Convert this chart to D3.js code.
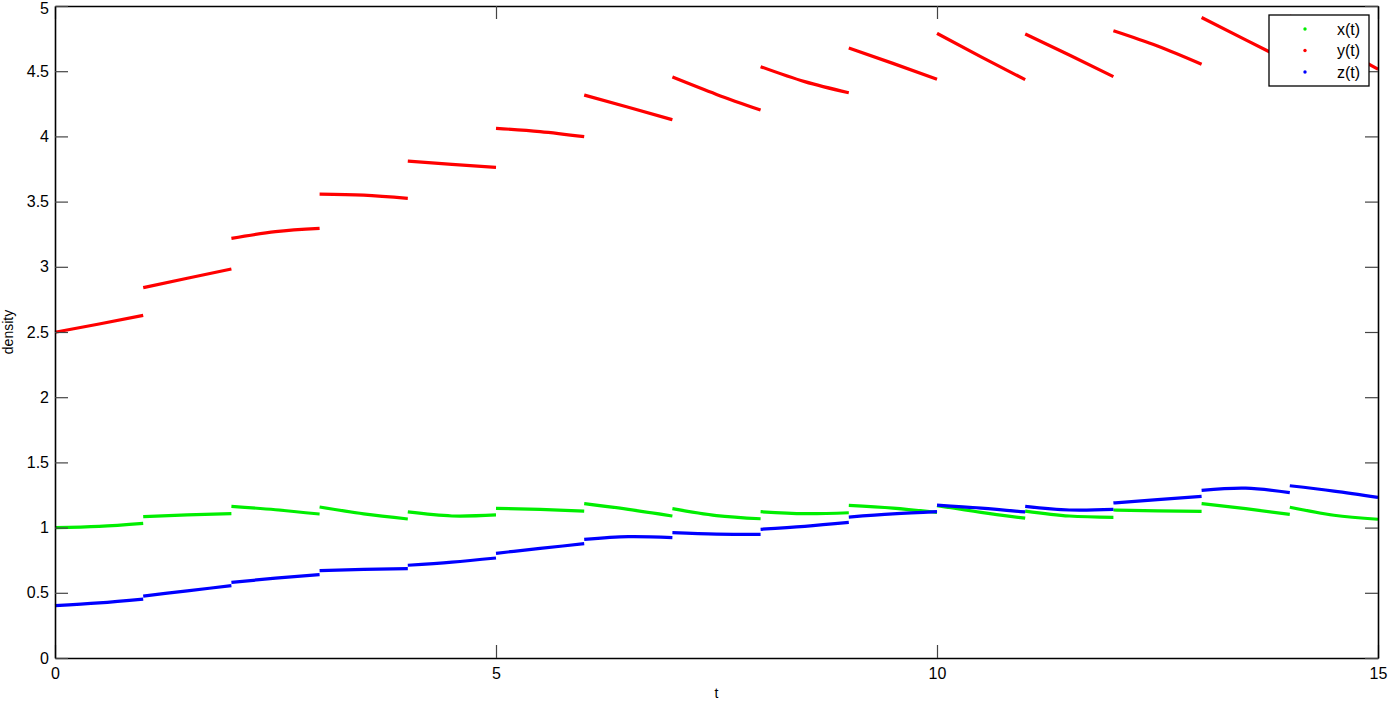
<!DOCTYPE html>
<html>
<head>
<meta charset="utf-8">
<script src="https://cdn.jsdelivr.net/npm/d3@7"></script>
<style>
  body { margin: 0; background: #fff; }
  svg { display: block; font-family: "Liberation Sans", Arial, sans-serif; }
</style>
</head>
<body>
<svg id="chart" width="1388" height="702"></svg>
<script>
// segment start times, each segment runs [t, t+1]
var segStarts = [0, 1, 2, 3, 4, 5, 6, 7, 8, 9, 10, 11, 12, 13, 14];

// [start, middle, end] value of each segment
var xVals = [
	[1.000, 1.010, 1.033], [1.084, 1.097, 1.107], [1.163, 1.137, 1.104],
	[1.158, 1.105, 1.066], [1.120, 1.089, 1.097], [1.148, 1.140, 1.127],
	[1.184, 1.140, 1.089], [1.145, 1.092, 1.068], [1.122, 1.107, 1.114],
	[1.171, 1.150, 1.117], [1.169, 1.117, 1.072], [1.127, 1.089, 1.079],
	[1.135, 1.129, 1.125], [1.184, 1.145, 1.102], [1.156, 1.095, 1.064]
];
var yVals = [
	[2.498, 2.561, 2.628], [2.840, 2.912, 2.983], [3.218, 3.270, 3.295],
	[3.558, 3.550, 3.525], [3.810, 3.785, 3.763], [4.062, 4.037, 3.998],
	[4.317, 4.223, 4.128], [4.455, 4.322, 4.202], [4.535, 4.420, 4.335],
	[4.678, 4.560, 4.438], [4.790, 4.610, 4.435], [4.785, 4.624, 4.458],
	[4.810, 4.693, 4.553], [4.912, 4.740, 4.570], [4.925, 4.710, 4.515]
];
var zVals = [
	[0.401, 0.423, 0.452], [0.475, 0.515, 0.555], [0.580, 0.612, 0.639],
	[0.670, 0.680, 0.685], [0.711, 0.735, 0.767], [0.803, 0.840, 0.877],
	[0.910, 0.931, 0.923], [0.961, 0.950, 0.948], [0.987, 1.010, 1.040],
	[1.081, 1.105, 1.122], [1.173, 1.150, 1.120], [1.163, 1.135, 1.140],
	[1.189, 1.215, 1.240], [1.286, 1.302, 1.268], [1.321, 1.280, 1.232]
];

var seriesNames = ["x(t)", "y(t)", "z(t)"];
var seriesColors = ["#00ee00", "#ff0000", "#0000ff"];
var xTicks = [0, 5, 10, 15];
var yTicks = [0, 0.5, 1, 1.5, 2, 2.5, 3, 3.5, 4, 4.5, 5];

var svg = d3.select("#chart"),
	margin = { left: 55, right: 10, top: 6, bottom: 44 },
	W = +svg.attr("width"),
	H = +svg.attr("height");

var x = d3.scaleLinear().domain([0, 15]).range([margin.left, W - margin.right]);
var y = d3.scaleLinear().domain([0, 5]).range([H - margin.bottom, margin.top]);

var line = d3.line()
	.x(function (d) { return x(d[0]); })
	.y(function (d) { return y(d[1]); })
	.curve(d3.curveNatural);

// draw curves
[xVals, yVals, zVals].forEach(function (vals, si) {
	var segs = segStarts.map(function (t0, i) {
		return [[t0, vals[i][0]], [t0 + 0.5, vals[i][1]], [t0 + 1, vals[i][2]]];
	});
	svg.append("g")
		.selectAll("path")
		.data(segs)
		.enter()
		.append("path")
		.attr("d", line)
		.attr("fill", "none")
		.attr("stroke", seriesColors[si])
		.attr("stroke-width", 3.2);
});

// axes, ticks inward on all four sides
var fmt = function (d) { return d3.format("~g")(d); };
svg.append("g")
	.attr("transform", "translate(0," + y(0) + ")")
	.call(d3.axisBottom(x).tickValues(xTicks).tickSizeInner(-13).tickSizeOuter(0).tickPadding(10).tickFormat(fmt));
svg.append("g")
	.attr("transform", "translate(0," + y(5) + ")")
	.call(d3.axisTop(x).tickValues(xTicks).tickSizeInner(-13).tickSizeOuter(0).tickFormat(""));
var yAxisG = svg.append("g")
	.attr("transform", "translate(" + x(0) + ",0)")
	.call(d3.axisLeft(y).tickValues(yTicks).tickSizeInner(-13).tickSizeOuter(0).tickPadding(6).tickFormat(fmt));
svg.append("g")
	.attr("transform", "translate(" + x(15) + ",0)")
	.call(d3.axisRight(y).tickValues(yTicks).tickSizeInner(-13).tickSizeOuter(0).tickFormat(""));

svg.selectAll(".domain").attr("stroke", "#000").attr("stroke-width", 1.6);
svg.selectAll(".tick line").attr("stroke", "#444").attr("stroke-width", 1.2);
svg.selectAll(".tick text")
	.attr("fill", "#000")
	.style("font-size", "16px")
	.style("font-family", "'Liberation Sans', Arial, sans-serif");

// top label sits a bit lower so it isn't clipped
yAxisG.selectAll(".tick text")
	.filter(function (d) { return d === 5; })
	.attr("y", 2);

svg.append("text")
	.attr("x", (x(0) + x(15)) / 2)
	.attr("y", 698)
	.attr("text-anchor", "middle")
	.style("font-size", "14px")
	.text("t");

svg.append("text")
	.attr("transform", "translate(13," + ((y(0) + y(5)) / 2) + ") rotate(-90)")
	.attr("text-anchor", "middle")
	.style("font-size", "14px")
	.text("density");

// legend
var lg = svg.append("g").attr("transform", "translate(1269,15)");
lg.append("rect")
	.attr("width", 100).attr("height", 71)
	.attr("fill", "#fff").attr("stroke", "#000").attr("stroke-width", 1.3);
var item = lg.selectAll(".item")
	.data(seriesNames)
	.enter()
	.append("g")
	.attr("transform", function (d, i) { return "translate(0," + (14 + i * 21.5) + ")"; });
item.append("circle")
	.attr("cx", 36).attr("r", 1.7)
	.attr("fill", function (d, i) { return seriesColors[i]; });
item.append("text")
	.attr("x", 68).attr("dy", "0.35em")
	.style("font-size", "16px")
	.text(function (d) { return d; });
</script>
</body>
</html>
